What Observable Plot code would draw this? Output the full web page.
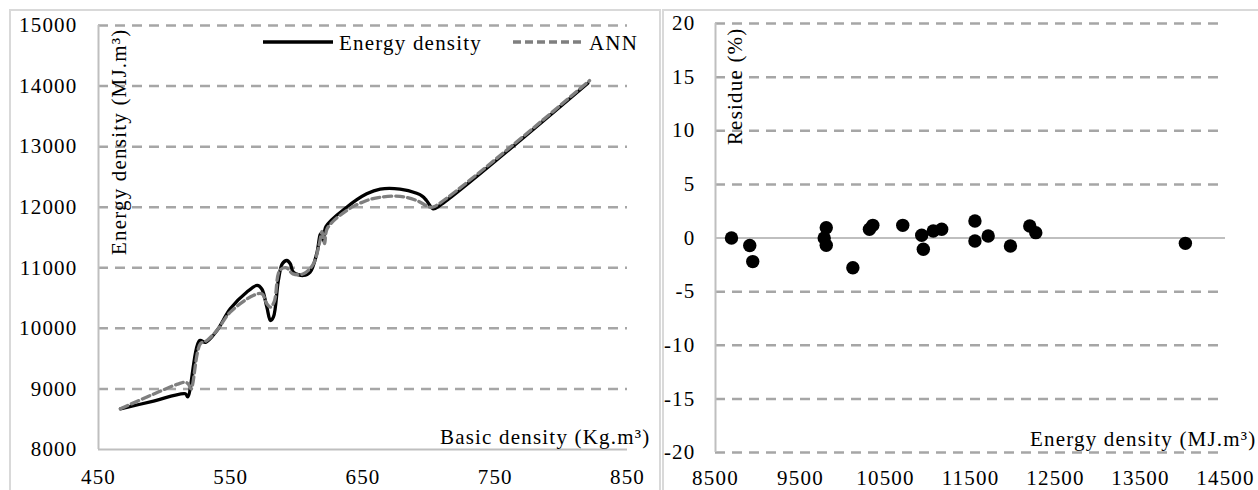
<!DOCTYPE html>
<html><head><meta charset="utf-8">
<script src="https://cdn.jsdelivr.net/npm/d3@7"></script>
<script src="https://cdn.jsdelivr.net/npm/@observablehq/plot@0.6"></script>
<style>
body{margin:0;background:#fff;}
#wrap{position:relative;width:1258px;height:490px;overflow:hidden;font-family:'Liberation Serif','Times New Roman',serif;}
.panel{position:absolute;border:2px solid #D9D9D9;box-sizing:border-box;}
#leftFrame{left:9px;top:9px;width:652px;height:500px;}
#rightFrame{left:662px;top:9px;width:620px;height:500px;}
.chart{position:absolute;}
#left{left:10px;top:10px;}
#right{left:662px;top:10px;}
#legend{position:absolute;left:250px;top:25px;}
svg text{font-family:'Liberation Serif','Times New Roman',serif !important;}
</style></head>
<body><div id="wrap">
<div class="panel" id="leftFrame"></div>
<div class="panel" id="rightFrame"></div>
<div class="chart" id="left"></div>
<div class="chart" id="right"></div>
<div id="legend"></div>
</div>
<script>
// Left chart: basic density (Kg.m³) vs energy density (MJ.m³)
const edX = [466.6, 490, 515.7, 517.5, 526.5, 531, 539.6, 549.6, 562, 570, 573.5, 577.3, 580, 582.3, 586, 589, 592.4, 595, 597.4, 605, 610, 615, 618, 620, 622, 637.7, 652.8, 663, 678, 690.6, 695, 698, 703, 708, 820];
const edY = [8672, 8790, 8920, 8870, 9800, 9770, 9965, 10323, 10597, 10708, 10650, 10350, 10130, 10190, 10790, 11066, 11120, 11066, 10928, 10873, 10928, 11231, 11560, 11450, 11680, 12000, 12221, 12300, 12300, 12230, 12180, 12111, 11974, 12028, 14048];
const annX = [466.6, 490, 510, 515.7, 518, 520, 527, 532, 540, 549.6, 567, 573.5, 577.3, 580, 583, 587, 592, 597, 605, 612.5, 617, 619, 621, 623, 637.7, 652.8, 663, 678, 690.6, 700.6, 704, 821.3];
const annY = [8672, 8900, 9080, 9111, 9080, 9000, 9745, 9800, 9980, 10267, 10543, 10570, 10405, 10350, 10450, 10955, 11000, 10900, 10900, 11066, 11400, 11600, 11400, 11650, 11946, 12111, 12165, 12180, 12111, 12000, 12012, 14090];
const leftXTicks = [450, 550, 650, 750, 850];
const leftYTicks = [8000, 9000, 10000, 11000, 12000, 13000, 14000, 15000];
const leftGrid = [9000, 10000, 11000, 12000, 13000, 14000, 15000];

// Right chart: energy density (MJ.m³) vs residue (%)
const resX = [8688, 8903, 8938, 9779, 9803, 9803, 10116, 10311, 10351, 10703, 10926, 10945, 11062, 11161, 11552, 11552, 11708, 11970, 12197, 12268, 14028];
const resY = [0.0, -0.7, -2.2, 0.0, 0.96, -0.68, -2.77, 0.81, 1.18, 1.18, 0.25, -1.05, 0.65, 0.81, 1.59, -0.28, 0.19, -0.75, 1.12, 0.5, -0.5];
const rightXTicks = [8500, 9500, 10500, 11500, 12500, 13500, 14500];
const rightYTicks = [-20, -15, -10, -5, 0, 5, 10, 15, 20];
const rightGrid = [-20, -15, -10, -5, 5, 10, 15, 20];

const FONT = "'Liberation Serif', 'Times New Roman', serif";
const gridStyle = {stroke: "#A6A6A6", strokeWidth: 2.5, strokeDasharray: "10,7", strokeOpacity: 1};
const axisStyle = {stroke: "#BFBFBF", strokeWidth: 2, strokeOpacity: 1};
const fmt = d => String(d);

const edData = edX.map((x, i) => ({x, y: edY[i]}));
const annData = annX.map((x, i) => ({x, y: annY[i]}));
const resData = resX.map((x, i) => ({x, y: resY[i]}));

const left = Plot.plot({
  width: 650, height: 480,
  marginLeft: 88, marginRight: 33, marginTop: 15, marginBottom: 41,
  style: {fontFamily: FONT, fontSize: "21px", color: "#000", background: "transparent", overflow: "visible", letterSpacing: "1.2px"},
  x: {domain: [450, 850]},
  y: {domain: [8000, 15000]},
  marks: [
    Plot.ruleY(leftGrid, gridStyle),
    Plot.ruleX([450], axisStyle),
    Plot.ruleY([8000], axisStyle),
    Plot.line(edData, {x: "x", y: "y", stroke: "#000", strokeWidth: 3.3, curve: "catmull-rom"}),
    Plot.line(annData, {x: "x", y: "y", stroke: "#7F7F7F", strokeWidth: 3.3, strokeDasharray: "8,4", curve: "catmull-rom"}),
    Plot.axisX({ticks: leftXTicks, tickSize: 0, tickPadding: 20, tickFormat: fmt, label: null, fill: "#000"}),
    Plot.axisY({ticks: leftYTicks, tickSize: 0, tickPadding: 21, tickFormat: fmt, label: null, fill: "#000"}),
    Plot.text(["Energy density (MJ.m³)"], {text: d => d, frameAnchor: "top-left", rotate: -90, textAnchor: "end", lineAnchor: "middle", dx: 21, dy: 3, fill: "#000"}),
    Plot.text(["Basic density (Kg.m³)"], {text: d => d, frameAnchor: "bottom-right", textAnchor: "end", lineAnchor: "bottom", dx: 23, dy: -6, fill: "#000"})
  ]
});
document.getElementById("left").appendChild(left);

const right = Plot.plot({
  width: 596, height: 480,
  marginLeft: 53, marginRight: 33, marginTop: 13, marginBottom: 38,
  style: {fontFamily: FONT, fontSize: "21px", color: "#000", background: "transparent", overflow: "visible", letterSpacing: "1.2px"},
  x: {domain: [8500, 14500]},
  y: {domain: [-20, 20]},
  marks: [
    Plot.ruleY(rightGrid, gridStyle),
    Plot.ruleX([8500], axisStyle),
    Plot.ruleY([0], axisStyle),
    Plot.dot(resData, {x: "x", y: "y", r: 6.7, fill: "#000", stroke: null}),
    Plot.axisX({ticks: rightXTicks, tickSize: 0, tickPadding: 18, tickFormat: fmt, label: null, fill: "#000"}),
    Plot.axisY({ticks: rightYTicks, tickSize: 0, tickPadding: 20, tickFormat: fmt, label: null, fill: "#000"}),
    Plot.text(["Residue (%)"], {text: d => d, frameAnchor: "top-left", rotate: -90, textAnchor: "end", lineAnchor: "middle", dx: 20, dy: 4, fill: "#000"}),
    Plot.text(["Energy density (MJ.m³)"], {text: d => d, frameAnchor: "bottom-right", textAnchor: "end", lineAnchor: "bottom", dx: 31, dy: -7, fill: "#000"})
  ]
});
document.getElementById("right").appendChild(right);

// Legend
const lg = d3.select("#legend").append("svg").attr("width", 420).attr("height", 36)
  .style("font-family", FONT).style("font-size", "21px").style("letter-spacing", "1.2px");
lg.append("line").attr("x1", 13).attr("x2", 83).attr("y1", 17).attr("y2", 17).attr("stroke", "#000").attr("stroke-width", 3.3);
lg.append("text").attr("x", 89).attr("y", 25).text("Energy density");
lg.append("line").attr("x1", 263).attr("x2", 333).attr("y1", 17).attr("y2", 17).attr("stroke", "#7F7F7F").attr("stroke-width", 3.3).attr("stroke-dasharray", "8,4");
lg.append("text").attr("x", 339).attr("y", 25).text("ANN");
</script>
</body></html>
